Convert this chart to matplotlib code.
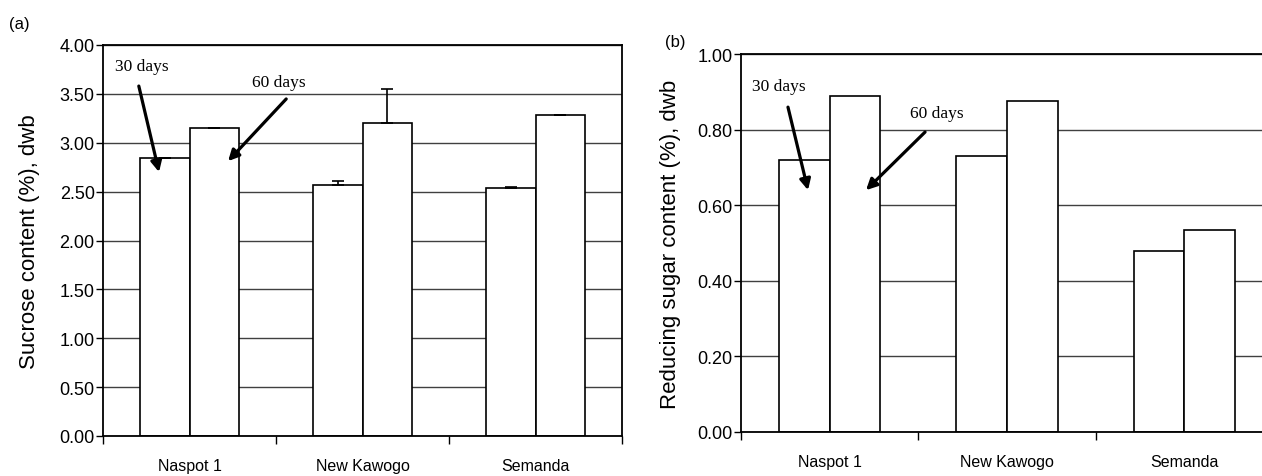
import matplotlib
matplotlib.use("Agg")
import matplotlib.pyplot as plt
import numpy as np

categories = ["Naspot 1", "New Kawogo", "Semanda"]
sucrose_30 = [2.84, 2.57, 2.54]
sucrose_60 = [3.15, 3.20, 3.28]
sucrose_err_30 = [0.005, 0.04, 0.005]
sucrose_err_60 = [0.005, 0.35, 0.005]
reducing_30 = [0.72, 0.73, 0.48]
reducing_60 = [0.89, 0.875, 0.535]
sucrose_ticks = [0.0, 0.5, 1.0, 1.5, 2.0, 2.5, 3.0, 3.5, 4.0]
reducing_ticks = [0.0, 0.2, 0.4, 0.6, 0.8, 1.0]

W, H = 1262, 477
fig = plt.figure(figsize=(W / 100, H / 100), dpi=100)

sans = "Liberation Sans"
serif = "Liberation Serif"
bw = 1 / 3.5


def panel(ax, v30, v60, ticks, ylabel, e30=None, e60=None):
    x = np.arange(len(categories))
    ax.set_axisbelow(True)
    ax.yaxis.grid(True, color="#404040", lw=1.0)
    ax.bar(x - bw / 2, v30, width=bw, color="white", edgecolor="black", lw=1.2, zorder=2)
    ax.bar(x + bw / 2, v60, width=bw, color="white", edgecolor="black", lw=1.2, zorder=2)
    if e30 is not None:
        ax.errorbar(x - bw / 2, v30, yerr=[np.zeros(3), e30], fmt="none", ecolor="black",
                    elinewidth=1.2, capsize=4, capthick=1.2, zorder=3)
        ax.errorbar(x + bw / 2, v60, yerr=[np.zeros(3), e60], fmt="none", ecolor="black",
                    elinewidth=1.2, capsize=4, capthick=1.2, zorder=3)
    ax.set_xlim(-0.5, len(categories) - 0.5)
    ax.set_ylim(ticks[0], ticks[-1])
    ax.set_yticks(ticks)
    ax.set_yticklabels([f"{t:.2f}" for t in ticks], fontfamily=sans, fontsize=13)
    ax.set_xticks(np.arange(len(categories) + 1) - 0.5)
    ax.set_xticklabels([])
    ax.set_xticks(np.arange(len(categories)), minor=True)
    ax.set_xticklabels(categories, minor=True, fontfamily=sans, fontsize=11.5)
    ax.tick_params(axis="x", which="minor", length=0, pad=16)
    ax.tick_params(axis="x", which="major", length=6, width=1, direction="out")
    ax.tick_params(axis="y", length=5, width=1, pad=1, direction="out")
    for s in ax.spines.values():
        s.set_linewidth(1.3)
        s.set_color("black")
    ax.set_ylabel(ylabel, fontfamily=sans, fontsize=16)


def arrow(ax, start, tip):
    ax.annotate("", xy=tip, xytext=start, xycoords="axes fraction", textcoords="axes fraction",
                arrowprops=dict(arrowstyle="-|>", lw=2.3, color="black", mutation_scale=16,
                                shrinkA=0, shrinkB=0))


axa = fig.add_axes([103 / W, 1 - 437 / H, 519 / W, 391 / H])
panel(axa, sucrose_30, sucrose_60, sucrose_ticks, "Sucrose content (%), dwb",
      sucrose_err_30, sucrose_err_60)
axa.yaxis.set_label_coords(-0.122, 0.5)
axa.text(0.075, 0.946, "30 days", transform=axa.transAxes, ha="center", va="center",
         fontfamily=serif, fontsize=12.5)
axa.text(0.339, 0.905, "60 days", transform=axa.transAxes, ha="center", va="center",
         fontfamily=serif, fontsize=12.5)
arrow(axa, (0.069, 0.895), (0.108, 0.675))
arrow(axa, (0.353, 0.862), (0.241, 0.703))

axb = fig.add_axes([741 / W, 1 - 432.7 / H, 532 / W, 377.4 / H])
panel(axb, reducing_30, reducing_60, reducing_ticks, "Reducing sugar content (%), dwb")
axb.yaxis.set_label_coords(-0.112, 0.5)
axb.text(0.0714, 0.916, "30 days", transform=axb.transAxes, ha="center", va="center",
         fontfamily=serif, fontsize=12.5)
axb.text(0.368, 0.844, "60 days", transform=axb.transAxes, ha="center", va="center",
         fontfamily=serif, fontsize=12.5)
arrow(axb, (0.0883, 0.860), (0.126, 0.640))
arrow(axb, (0.346, 0.794), (0.235, 0.640))

fig.text(19 / W, 1 - 25 / H, "(a)", ha="center", va="center", fontfamily=sans, fontsize=12)
fig.text(675 / W, 1 - 43 / H, "(b)", ha="center", va="center", fontfamily=sans, fontsize=12)

fig.savefig("out.png", dpi=100)
